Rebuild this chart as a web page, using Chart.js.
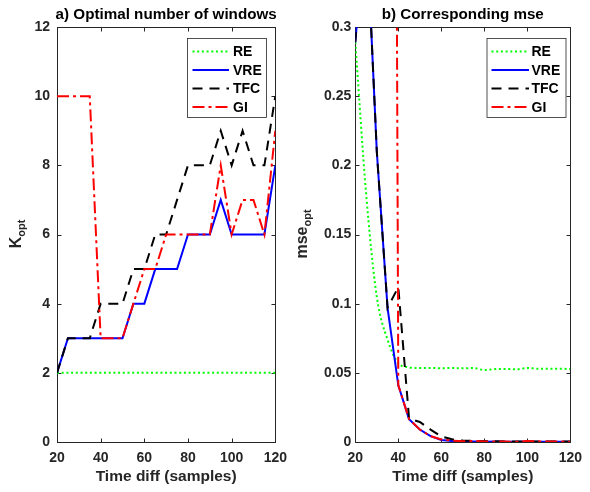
<!DOCTYPE html>
<html><head><meta charset="utf-8">
<script src="https://cdn.jsdelivr.net/npm/chart.js@4.4.1/dist/chart.umd.min.js"></script>
<style>
html,body{margin:0;padding:0;background:#fff;}
#wrap{position:relative;width:590px;height:492px;overflow:hidden;}
.c{position:absolute;top:0;height:492px;width:295px;}
</style></head><body>
<div id="wrap">
<div class="c" style="left:0"><canvas id="c1"></canvas></div>
<div class="c" style="left:295px"><canvas id="c2"></canvas></div>
</div>
<script>
// ---- data ----
const timeDiff = [20,25,30,35,40,45,50,55,60,65,70,75,80,85,90,95,100,105,110,115,120];
const seriesNames = ['RE','VRE','TFC','GI'];
const kRE  = [2,2,2,2,2,2,2,2,2,2,2,2,2,2,2,2,2,2,2,2,2];
const kVRE = [2,3,3,3,3,3,3,4,4,5,5,5,6,6,6,7,6,6,6,6,8];
const kTFC = [2,3,3,3,4,4,4,5,5,6,6,7,8,8,8,9,8,9,8,8,10];
const kGI  = [10,10,10,10,3,3,3,4,5,5,6,6,6,6,6,8,6,7,7,6,9];
const mseRE  = [0.289,0.18,0.105,0.074,0.057,0.054,0.0535,0.0535,0.0533,0.0535,0.0533,0.0535,0.052,0.0527,0.0528,0.0525,0.0535,0.053,0.053,0.053,0.0527];
const mseVRE = [0.289,0.38,0.21,0.097,0.041,0.0165,0.009,0.0042,0.0015,0.0008,0.0004,0.0003,0.0002,0.0003,0.0002,0.0002,0.0003,0.0002,0.0002,0.0002,0.0002];
const mseTFC = [0.289,0.38,0.21,0.097,0.112,0.017,0.0145,0.009,0.004,0.002,0.001,0.0008,0.0005,0.0005,0.0004,0.0004,0.0004,0.0004,0.0003,0.0003,0.0003];
const mseGI  = [2.1,2.1,2.1,2.1,0.041,0.0165,0.009,0.0042,0.0018,0.001,0.0005,0.0008,0.0004,0.0003,0.0003,0.0002,0.0008,0.0005,0.0003,0.0004,0.0002];
const xTicks = [20,40,60,80,100,120];
const yTicksK = [0,2,4,6,8,10,12];
const yTicksMse = [0,0.05,0.1,0.15,0.2,0.25,0.3];

const FONT = '"Liberation Sans", Arial, Helvetica, sans-serif';
const AX = '#262626';
const styles = [
  {color:'#00ff00', dash:[2,2.7]},
  {color:'#0000ff', dash:[]},
  {color:'#000000', dash:[10,7]},
  {color:'#ff0000', dash:[12,4,3,4]}
];

function makeDatasets(arrs, smoothFirst){
  return arrs.map((arr,i)=>({
    label: seriesNames[i],
    data: timeDiff.map((t,j)=>({x:t, y:arr[j]})),
    borderColor: styles[i].color,
    borderDash: styles[i].dash,
    borderWidth: 2,
    pointRadius: 0,
    fill: false,
    tension: 0,
    cubicInterpolationMode: (smoothFirst && i===0) ? 'monotone' : 'default',
    order: 4-i,
    clip: 0
  }));
}

const frame = {
  id:'frame',
  beforeDatasetsDraw(chart){
    const {ctx, chartArea:a, scales:{x,y}} = chart;
    ctx.save();
    ctx.strokeStyle = AX; ctx.lineWidth = 1;
    const L = Math.round(a.left)+0.5, R = Math.round(a.right)+0.5, T = Math.round(a.top)+0.5, B = Math.round(a.bottom)+0.5;
    ctx.strokeRect(L, T, R-L, B-T);
    const len = 4;
    ctx.beginPath();
    x.ticks.forEach(t=>{ const px = Math.round(x.getPixelForValue(t.value))+0.5;
      ctx.moveTo(px,B); ctx.lineTo(px,B-len); ctx.moveTo(px,T); ctx.lineTo(px,T+len); });
    y.ticks.forEach(t=>{ const py = Math.round(y.getPixelForValue(t.value))+0.5;
      ctx.moveTo(L,py); ctx.lineTo(L+len,py); ctx.moveTo(R,py); ctx.lineTo(R-len,py); });
    ctx.stroke();
    ctx.restore();
  }
};

const legendBox = {
  id:'legendBox',
  afterDraw(chart, args, o){
    const ctx = chart.ctx;
    ctx.save();
    ctx.fillStyle = '#fff'; ctx.fillRect(o.x, o.y, o.w, o.h);
    ctx.strokeStyle = AX; ctx.lineWidth = 0.8; ctx.strokeRect(o.x+0.5, o.y+0.5, o.w, o.h);
    chart.data.datasets.forEach((ds,i)=>{
      const cy = o.y + o.row0 + i*o.rowH;
      ctx.strokeStyle = ds.borderColor; ctx.lineWidth = ds.borderWidth;
      ctx.setLineDash(ds.borderDash || []);
      ctx.beginPath(); ctx.moveTo(o.x+o.l0, cy); ctx.lineTo(o.x+o.l1, cy); ctx.stroke();
      ctx.setLineDash([]);
      ctx.fillStyle = '#000'; ctx.font = 'bold 14px ' + FONT; ctx.textBaseline = 'middle'; ctx.textAlign='left';
      ctx.fillText(ds.label, o.x+o.tx, cy+1);
    });
    ctx.restore();
  }
};

const titleText = {
  id:'titleText',
  afterDraw(chart, args, o){
    const {ctx, chartArea:a} = chart;
    ctx.save();
    ctx.fillStyle = '#000'; ctx.font = 'bold 15.2px ' + FONT;
    ctx.textAlign = 'center'; ctx.textBaseline = 'alphabetic';
    ctx.fillText(o.text, (a.left + a.right)/2, o.y);
    ctx.restore();
  }
};

const yLabel = {
  id:'yLabel',
  afterDraw(chart, args, o){
    const ctx = chart.ctx;
    ctx.save();
    ctx.fillStyle = AX;
    ctx.translate(o.x, o.y); ctx.rotate(-Math.PI/2);
    ctx.textBaseline = 'alphabetic'; ctx.textAlign = 'left';
    ctx.font = 'bold 16px ' + FONT; const w1 = ctx.measureText(o.main).width;
    ctx.font = 'bold 11px ' + FONT; const w2 = ctx.measureText(o.sub).width;
    const s = -(w1+w2)/2;
    ctx.font = 'bold 16px ' + FONT; ctx.fillText(o.main, s, 0);
    ctx.font = 'bold 11px ' + FONT; ctx.fillText(o.sub, s+w1, 4);
    ctx.restore();
  }
};

function makeChart(id, arrs, yMin, yMax, yTicks, title, leftW, padRight, yPad, legendOpts, ylab, smooth){
  return new Chart(document.getElementById(id), {
    type:'line',
    data:{ datasets: makeDatasets(arrs, smooth) },
    plugins:[frame, legendBox, yLabel, titleText],
    options:{
      responsive:true, maintainAspectRatio:false, animation:false, devicePixelRatio:1,
      layout:{ padding:{left:0, right:padRight, top:27, bottom:0} },
      plugins:{
        legend:{display:false}, tooltip:{enabled:false}, title:{display:false},
        legendBox: legendOpts,
        yLabel: ylab,
        titleText: {text:title, y:19.3}
      },
      scales:{
        x:{ type:'linear', min:20, max:120,
          afterBuildTicks: s => { s.ticks = xTicks.map(v=>({value:v})); },
          afterFit: s => { s.height = 50; },
          grid:{display:false, drawTicks:false}, border:{display:false},
          ticks:{ color:AX, padding:8, maxRotation:0, autoSkip:false, font:{family:FONT, size:14, weight:'bold'} },
          title:{ display:true, text:'Time diff (samples)', color:AX, padding:{top:0,bottom:6},
            font:{family:FONT, size:15.5, weight:'bold', lineHeight:1.2} }
        },
        y:{ type:'linear', min:yMin, max:yMax,
          afterBuildTicks: s => { s.ticks = yTicks.map(v=>({value:v})); },
          afterFit: s => { s.width = leftW; },
          grid:{display:false, drawTicks:false}, border:{display:false},
          ticks:{ color:AX, padding:yPad, autoSkip:false,
            callback: v => String(+Number(v).toFixed(2)),
            font:{family:FONT, size:14, weight:'bold'} }
        }
      }
    }
  });
}

makeChart('c1', [kRE,kVRE,kTFC,kGI], 0, 12, yTicksK, 'a) Optimal number of windows', 57, 16, 7,
  {x:187, y:38, w:79, h:79, row0:13.6, rowH:18.5, l0:5.5, l1:42, tx:46},
  {x:21, y:234, main:'K', sub:'opt'}, false);
makeChart('c2', [mseRE,mseVRE,mseTFC,mseGI], 0, 0.3, yTicksMse, 'b) Corresponding mse', 60.3, 12.7, 4,
  {x:191.5, y:38, w:79, h:79, row0:13.6, rowH:18.5, l0:5, l1:42.5, tx:45},
  {x:12, y:234, main:'mse', sub:'opt'}, true);
</script>
</body></html>
